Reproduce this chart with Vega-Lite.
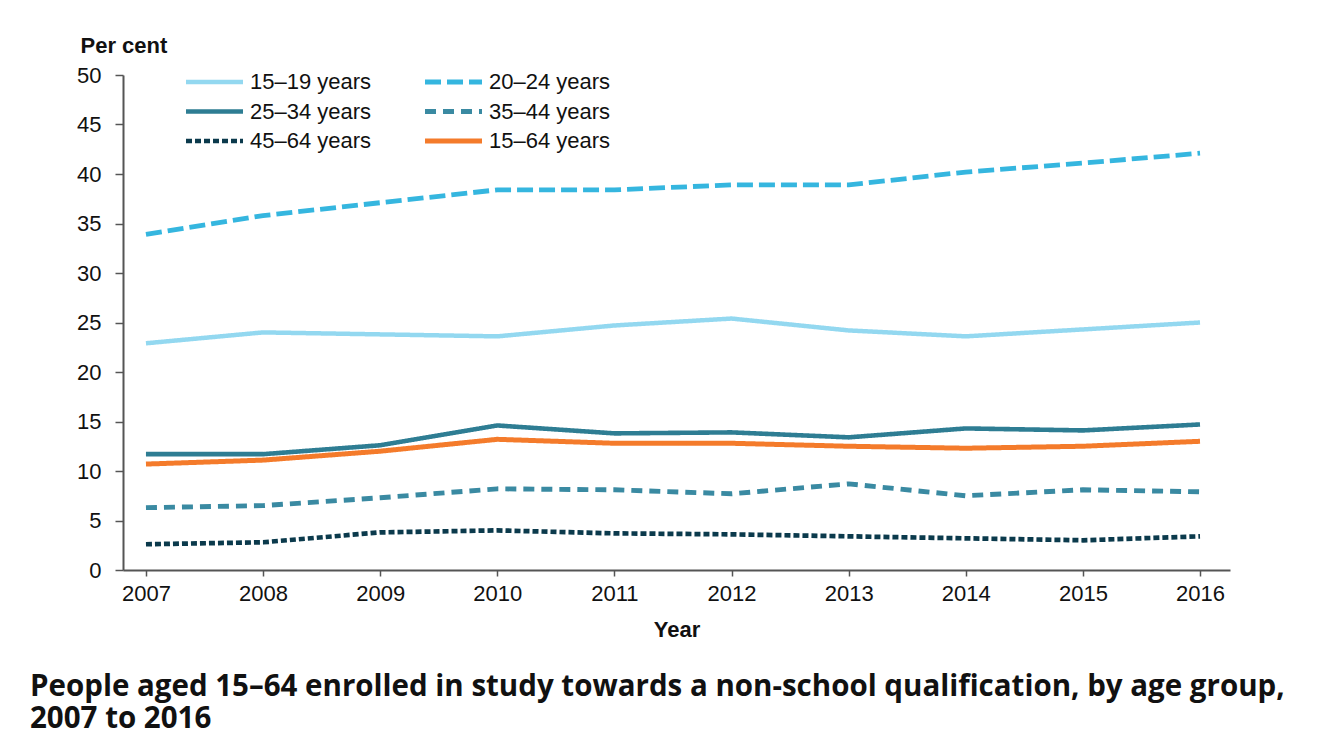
{
  "$schema": "https://vega.github.io/schema/vega-lite/v6.json",
  "width": 1107,
  "height": 495,
  "autosize": {"type": "none"},
  "padding": {"left": 123, "top": 75, "right": 101, "bottom": 175},
  "background": "white",
  "title": {
    "text": ["People aged 15–64 enrolled in study towards a non-school qualification, by age group,", "2007 to 2016"],
    "orient": "bottom",
    "anchor": "start",
    "frame": "group",
    "dx": -93,
    "offset": 33,
    "font": "Open Sans",
    "fontSize": 29.5,
    "fontWeight": "bold",
    "color": "#111111",
    "lineHeight": 31.5
  },
  "data": {
    "values": [
      {"year": 2007, "group": "15–19 years", "value": 22.9},
      {"year": 2008, "group": "15–19 years", "value": 24.0},
      {"year": 2009, "group": "15–19 years", "value": 23.8},
      {"year": 2010, "group": "15–19 years", "value": 23.6},
      {"year": 2011, "group": "15–19 years", "value": 24.7},
      {"year": 2012, "group": "15–19 years", "value": 25.4},
      {"year": 2013, "group": "15–19 years", "value": 24.2},
      {"year": 2014, "group": "15–19 years", "value": 23.6},
      {"year": 2015, "group": "15–19 years", "value": 24.3},
      {"year": 2016, "group": "15–19 years", "value": 25.0},
      {"year": 2007, "group": "20–24 years", "value": 33.9},
      {"year": 2008, "group": "20–24 years", "value": 35.8},
      {"year": 2009, "group": "20–24 years", "value": 37.1},
      {"year": 2010, "group": "20–24 years", "value": 38.4},
      {"year": 2011, "group": "20–24 years", "value": 38.4},
      {"year": 2012, "group": "20–24 years", "value": 38.9},
      {"year": 2013, "group": "20–24 years", "value": 38.9},
      {"year": 2014, "group": "20–24 years", "value": 40.2},
      {"year": 2015, "group": "20–24 years", "value": 41.1},
      {"year": 2016, "group": "20–24 years", "value": 42.1},
      {"year": 2007, "group": "25–34 years", "value": 11.7},
      {"year": 2008, "group": "25–34 years", "value": 11.7},
      {"year": 2009, "group": "25–34 years", "value": 12.6},
      {"year": 2010, "group": "25–34 years", "value": 14.6},
      {"year": 2011, "group": "25–34 years", "value": 13.8},
      {"year": 2012, "group": "25–34 years", "value": 13.9},
      {"year": 2013, "group": "25–34 years", "value": 13.4},
      {"year": 2014, "group": "25–34 years", "value": 14.3},
      {"year": 2015, "group": "25–34 years", "value": 14.1},
      {"year": 2016, "group": "25–34 years", "value": 14.7},
      {"year": 2007, "group": "35–44 years", "value": 6.3},
      {"year": 2008, "group": "35–44 years", "value": 6.5},
      {"year": 2009, "group": "35–44 years", "value": 7.3},
      {"year": 2010, "group": "35–44 years", "value": 8.2},
      {"year": 2011, "group": "35–44 years", "value": 8.1},
      {"year": 2012, "group": "35–44 years", "value": 7.7},
      {"year": 2013, "group": "35–44 years", "value": 8.7},
      {"year": 2014, "group": "35–44 years", "value": 7.5},
      {"year": 2015, "group": "35–44 years", "value": 8.1},
      {"year": 2016, "group": "35–44 years", "value": 7.9},
      {"year": 2007, "group": "45–64 years", "value": 2.6},
      {"year": 2008, "group": "45–64 years", "value": 2.8},
      {"year": 2009, "group": "45–64 years", "value": 3.8},
      {"year": 2010, "group": "45–64 years", "value": 4.0},
      {"year": 2011, "group": "45–64 years", "value": 3.7},
      {"year": 2012, "group": "45–64 years", "value": 3.6},
      {"year": 2013, "group": "45–64 years", "value": 3.4},
      {"year": 2014, "group": "45–64 years", "value": 3.2},
      {"year": 2015, "group": "45–64 years", "value": 3.0},
      {"year": 2016, "group": "45–64 years", "value": 3.4},
      {"year": 2007, "group": "15–64 years", "value": 10.7},
      {"year": 2008, "group": "15–64 years", "value": 11.1},
      {"year": 2009, "group": "15–64 years", "value": 12.0},
      {"year": 2010, "group": "15–64 years", "value": 13.2},
      {"year": 2011, "group": "15–64 years", "value": 12.8},
      {"year": 2012, "group": "15–64 years", "value": 12.8},
      {"year": 2013, "group": "15–64 years", "value": 12.5},
      {"year": 2014, "group": "15–64 years", "value": 12.3},
      {"year": 2015, "group": "15–64 years", "value": 12.5},
      {"year": 2016, "group": "15–64 years", "value": 13.0}
    ]
  },
  "mark": {"type": "line", "interpolate": "linear", "strokeJoin": "round"},
  "encoding": {
    "x": {
      "field": "year",
      "type": "quantitative",
      "scale": {"domain": [2006.804, 2016.256], "nice": false, "zero": false},
      "axis": {
        "title": "Year",
        "values": [2007, 2008, 2009, 2010, 2011, 2012, 2013, 2014, 2015, 2016],
        "format": "d",
        "grid": false,
        "tickSize": 6,
        "labelPadding": 7,
        "titlePadding": 15
      }
    },
    "y": {
      "field": "value",
      "type": "quantitative",
      "scale": {"domain": [0, 50], "nice": false},
      "axis": {
        "title": "Per cent",
        "values": [0, 5, 10, 15, 20, 25, 30, 35, 40, 45, 50],
        "grid": false,
        "tickSize": 8,
        "labelPadding": 14,
        "titleAngle": 0,
        "titleAlign": "left",
        "titleBaseline": "alphabetic",
        "titleX": -43,
        "titleY": -23
      }
    },
    "color": {
      "field": "group",
      "type": "nominal",
      "scale": {
        "domain": ["15–19 years", "25–34 years", "45–64 years", "20–24 years", "35–44 years", "15–64 years"],
        "range": ["#93d8f0", "#2e7d93", "#0b3a4c", "#35b6df", "#3a8aa2", "#f47b2b"]
      },
      "legend": {
        "title": null,
        "orient": "none",
        "legendX": 57,
        "legendY": -4,
        "columns": 2,
        "columnPadding": 43,
        "rowPadding": 7.5,
        "symbolType": "M-1,0L10.4,0",
        "symbolSize": 100,
        "symbolStrokeWidth": 5,
        "labelFontSize": 22,
        "labelFont": "Liberation Sans",
        "labelColor": "#111111",
        "labelOffset": 48,
        "labelLimit": 300
      }
    },
    "strokeDash": {
      "field": "group",
      "type": "nominal",
      "scale": {
        "domain": ["15–19 years", "25–34 years", "45–64 years", "20–24 years", "35–44 years", "15–64 years"],
        "range": [[1, 0], [1, 0], [6, 3], [16, 6], [11, 7], [1, 0]]
      },
      "legend": {
        "title": null,
        "orient": "none",
        "legendX": 57,
        "legendY": -4,
        "columns": 2,
        "columnPadding": 43,
        "rowPadding": 7.5,
        "symbolType": "M-1,0L10.4,0",
        "symbolSize": 100,
        "symbolStrokeWidth": 5,
        "labelFontSize": 22,
        "labelFont": "Liberation Sans",
        "labelColor": "#111111",
        "labelOffset": 48,
        "labelLimit": 300
      }
    },
    "strokeWidth": {
      "field": "group",
      "type": "nominal",
      "scale": {
        "domain": ["15–19 years", "25–34 years", "45–64 years", "20–24 years", "35–44 years", "15–64 years"],
        "range": [4.5, 5, 4, 5, 4, 4]
      },
      "legend": null
    }
  },
  "config": {
    "view": {"stroke": null},
    "font": "Liberation Sans",
    "axis": {
      "domainColor": "#555555",
      "domainWidth": 2,
      "tickColor": "#555555",
      "tickWidth": 1.5,
      "labelFont": "Liberation Sans",
      "labelFontSize": 22,
      "labelColor": "#111111",
      "titleFont": "Liberation Sans",
      "titleFontSize": 22,
      "titleFontWeight": "bold",
      "titleColor": "#111111"
    }
  }
}
